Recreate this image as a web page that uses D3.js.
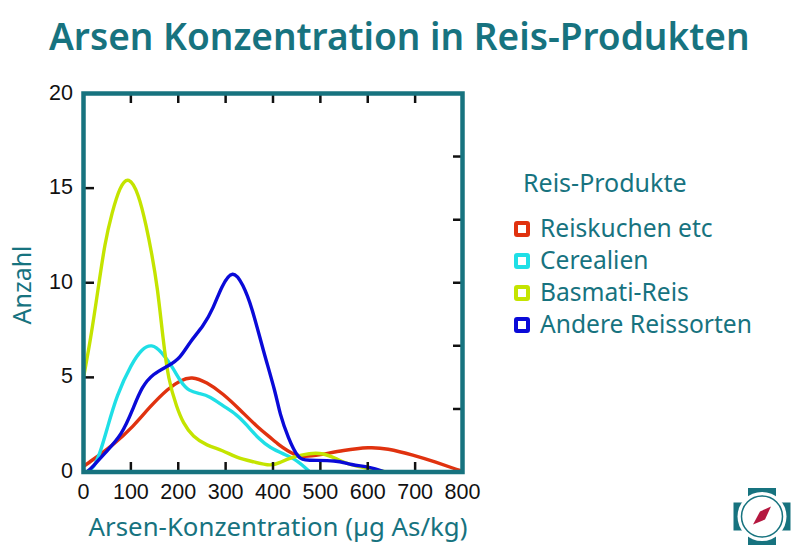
<!DOCTYPE html>
<html>
<head>
<title>Arsen Konzentration in Reis-Produkten</title>
<script src="https://d3js.org/d3.v7.min.js"></script>
<style>
  body { margin: 0; background: #ffffff; }
  svg { display: block; }
  .teal { fill: #17737f; font-family: "Noto Sans", sans-serif; }
  .num { fill: #111111; font-family: "Liberation Sans", sans-serif; font-size: 21.5px; }
</style>
</head>
<body>
<div id="chart"></div>
<script>
// values: [concentration, count]
var reiskuchen = [[0,0.3],[7,0.42],[63,1.43],[105,2.4],[140,3.45],[179,4.43],[205,4.85],[228,5.05],[260,4.75],[294,4.15],[330,3.3],[366,2.4],[393,1.85],[414,1.4],[429,1.15],[457,0.75],[499,0.9],[548,1.15],[604,1.32],[640,1.25],[696,0.9],[746,0.5],[780,0.2],[800,0.05]];
var cerealien = [[9,0.05],[21,0.2],[35,1],[49,2.2],[70,4.07],[102,5.75],[123,6.5],[144,6.78],[165,6.35],[189,5.5],[204,4.8],[223,4.25],[246,4.15],[267,4],[294,3.5],[323,3.05],[344,2.5],[372,1.7],[393,1.3],[422,0.95],[450,0.65],[478,0]];
var basmati = [[0,5],[15,7],[31,9.7],[45,12.1],[60,13.7],[77,15.1],[95,15.65],[116,14.75],[133,12.95],[144,11.55],[156,9.8],[168,7],[179,4.87],[197,3.4],[210,2.6],[231,1.85],[260,1.4],[294,1.15],[323,0.75],[357,0.55],[397,0.3],[414,0.5],[442,0.8],[478,1],[506,1],[534,0.7],[562,0.37],[598,0.2],[640,0]];
var andere = [[9,0.05],[17,0.2],[45,1],[81,1.95],[105,3.37],[123,4.5],[147,5.2],[179,5.6],[204,6],[225,6.9],[253,7.7],[274,8.65],[291,9.8],[315,10.75],[337,9.9],[355,8.75],[379,6.45],[406,4.15],[414,3.1],[432,1.8],[453,0.7],[470,0.6],[534,0.63],[565,0.37],[604,0.27],[636,0]];

var seriesNames = ["Reiskuchen etc", "Cerealien", "Basmati-Reis", "Andere Reissorten"];
var seriesColors = ["#e0320f", "#1fdfe6", "#c4e400", "#0a0ad8"];
var seriesData = [reiskuchen, cerealien, basmati, andere];

var xLabels = [0, 100, 200, 300, 400, 500, 600, 700, 800];
var yLabels = [0, 5, 10, 15, 20];
var yRightTicks = [3.33, 6.67, 10, 13.33, 16.67];

var teal = "#17737f";

var svg = d3.select("#chart").append("svg")
  .attr("width", 800)
  .attr("height", 554);

var x = d3.scaleLinear().domain([0, 800]).range([83.5, 462.5]);
var y = d3.scaleLinear().domain([0, 20]).range([472, 93.5]);

// title
svg.append("text")
  .attr("class", "teal")
  .attr("x", 49)
  .attr("y", 50)
  .style("font-size", "37px")
  .style("font-weight", 600)
  .text("Arsen Konzentration in Reis-Produkten");

// curves first, the frame goes on top of them
var line = d3.line()
  .x(function(d) { return x(d[0]); })
  .y(function(d) { return y(d[1]); })
  .curve(d3.curveBasis);

svg.selectAll(".curve")
  .data(seriesData)
  .enter().append("path")
  .attr("class", "curve")
  .attr("d", line)
  .attr("fill", "none")
  .attr("stroke-width", 3.4)
  .attr("stroke-linejoin", "round")
  .attr("stroke", function(d, i) { return seriesColors[i]; });

// inner ticks
var ticks = svg.append("g").attr("stroke", "#111111").attr("stroke-width", 2.5);

ticks.selectAll(".xb").data(xLabels.slice(1, -1)).enter().append("line")
  .attr("x1", x).attr("x2", x).attr("y1", 472).attr("y2", 462);
ticks.selectAll(".xt").data(xLabels.slice(1, -1)).enter().append("line")
  .attr("x1", x).attr("x2", x).attr("y1", 93.5).attr("y2", 103);
ticks.selectAll(".yl").data(yLabels.slice(1, -1)).enter().append("line")
  .attr("y1", y).attr("y2", y).attr("x1", 84).attr("x2", 94);
ticks.selectAll(".yr").data(yRightTicks).enter().append("line")
  .attr("y1", y).attr("y2", y).attr("x1", 462).attr("x2", 453);

// frame
svg.append("rect")
  .attr("x", 83.5)
  .attr("y", 93.5)
  .attr("width", 379)
  .attr("height", 378.5)
  .attr("fill", "none")
  .attr("stroke", teal)
  .attr("stroke-width", 4.5);

// tick labels
svg.selectAll(".xlab").data(xLabels).enter().append("text")
  .attr("class", "num")
  .attr("x", x)
  .attr("y", 499)
  .attr("text-anchor", "middle")
  .text(function(d) { return d; });

svg.selectAll(".ylab").data(yLabels).enter().append("text")
  .attr("class", "num")
  .attr("x", 73)
  .attr("y", function(d) { return y(d) + 6; })
  .attr("text-anchor", "end")
  .text(function(d) { return d; });

// axis titles
svg.append("text")
  .attr("class", "teal")
  .attr("x", 278)
  .attr("y", 536)
  .attr("text-anchor", "middle")
  .style("font-size", "25.8px")
  .text("Arsen-Konzentration (µg As/kg)");

svg.append("text")
  .attr("class", "teal")
  .attr("transform", "translate(31,285) rotate(-90)")
  .attr("text-anchor", "middle")
  .style("font-size", "25px")
  .text("Anzahl");

// legend
svg.append("text")
  .attr("class", "teal")
  .attr("x", 523)
  .attr("y", 192)
  .style("font-size", "25px")
  .text("Reis-Produkte");

var legend = svg.selectAll(".legend")
  .data(seriesNames)
  .enter().append("g")
  .attr("class", "legend")
  .attr("transform", function(d, i) { return "translate(0," + (229 + i * 32) + ")"; });

legend.append("rect")
  .attr("x", 516)
  .attr("y", -6)
  .attr("width", 12)
  .attr("height", 12)
  .attr("rx", 1)
  .attr("fill", "#ffffff")
  .attr("stroke-width", 4)
  .attr("stroke", function(d, i) { return seriesColors[i]; });

legend.append("text")
  .attr("class", "teal")
  .attr("x", 540)
  .attr("y", 8)
  .style("font-size", "24.6px")
  .text(function(d) { return d; });

// logo in the corner
var logo = svg.append("g").attr("transform", "translate(762,516.5)");
logo.append("rect").attr("x", -14).attr("y", -28.5).attr("width", 28).attr("height", 57).attr("fill", teal);
logo.append("rect").attr("x", -28.5).attr("y", -14).attr("width", 57).attr("height", 28).attr("fill", teal);
logo.append("circle").attr("r", 24.5).attr("fill", "#ffffff");
logo.append("circle").attr("r", 20.5).attr("fill", "#ffffff").attr("stroke", teal).attr("stroke-width", 1.5);
logo.append("path").attr("d", "M-9,8 L-2,-5 L9,-10 L3,3 Z").attr("fill", "#b5173f");
</script>
</body>
</html>
